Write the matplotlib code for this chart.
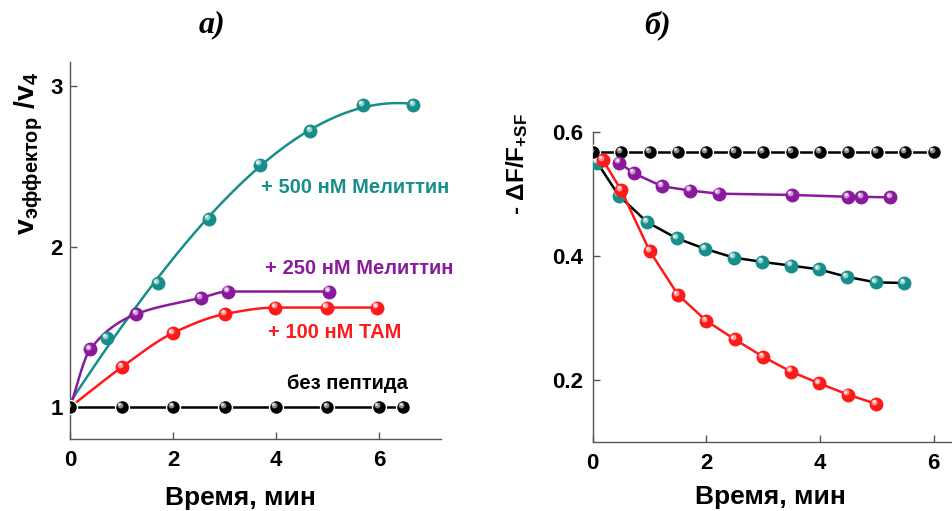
import matplotlib
matplotlib.use("Agg")
import matplotlib.pyplot as plt
import matplotlib.transforms as mtransforms
import numpy as np

plt.rcParams['font.family'] = ['Liberation Sans', 'DejaVu Sans']
plt.rcParams['font.weight'] = 'bold'
plt.rcParams['mathtext.fontset'] = 'custom'
plt.rcParams['mathtext.rm'] = 'Liberation Sans:bold'
plt.rcParams['mathtext.bf'] = 'Liberation Sans:bold'
plt.rcParams['mathtext.it'] = 'Liberation Sans:bold'

TEAL = '#168f8a'
PURPLE = '#8a1a9c'
RED = '#ff1a1a'
BLACK = '#000000'

# а) скорость эффектора, отнесённая к v4
t_mel500 = [0, 0.71, 1.70, 2.69, 3.68, 4.67, 5.68, 6.67]
v_mel500 = [1.0, 1.43, 1.77, 2.17, 2.51, 2.72, 2.88, 2.88]
t_mel250 = [0, 0.39, 1.29, 2.54, 3.07, 5.03]
v_mel250 = [1.0, 1.36, 1.58, 1.68, 1.72, 1.72]
t_tam100 = [0, 1.01, 1.99, 3.01, 3.99, 4.99, 5.97]
v_tam100 = [1.0, 1.25, 1.46, 1.58, 1.62, 1.62, 1.62]
t_ctrl = [0, 1, 2, 3, 4, 5, 6, 6.47]
v_ctrl = [1.0, 1.0, 1.0, 1.0, 1.0, 1.0, 1.0, 1.0]

# б) тушение флуоресценции
tb_ctrl = [0, 0.5, 1, 1.5, 2, 2.5, 3, 3.5, 4, 4.5, 5, 5.5, 6]
fb_ctrl = [0.567] * 13
tb_mel250 = [0.47, 0.72, 1.22, 1.72, 2.22, 3.50, 4.50, 4.73, 5.24]
fb_mel250 = [0.550, 0.533, 0.512, 0.505, 0.500, 0.498, 0.495, 0.495, 0.494]
tb_mel500 = [0.08, 0.46, 0.96, 1.48, 1.98, 2.48, 2.98, 3.49, 3.98, 4.47, 4.98, 5.48]
fb_mel500 = [0.550, 0.497, 0.454, 0.428, 0.411, 0.397, 0.390, 0.384, 0.378, 0.366, 0.357, 0.356]
tb_tam100 = [0.18, 0.50, 1.00, 1.50, 2.00, 2.50, 3.00, 3.49, 3.99, 4.49, 4.99]
fb_tam100 = [0.554, 0.506, 0.408, 0.337, 0.295, 0.265, 0.237, 0.213, 0.194, 0.176, 0.161]


def pchip(x, y, n=200):
    # монотонная кубическая кривая через точки (Fritsch-Carlson)
    x = np.asarray(x, float)
    y = np.asarray(y, float)
    h = np.diff(x)
    d = np.diff(y) / h
    m = np.zeros_like(y)
    m[0], m[-1] = d[0], d[-1]
    for i in range(1, len(x) - 1):
        if d[i - 1] * d[i] > 0:
            w1 = 2 * h[i] + h[i - 1]
            w2 = h[i] + 2 * h[i - 1]
            m[i] = (w1 + w2) / (w1 / d[i - 1] + w2 / d[i])
    xs = np.linspace(x[0], x[-1], n)
    k = np.clip(np.searchsorted(x, xs) - 1, 0, len(x) - 2)
    s = (xs - x[k]) / h[k]
    h00 = 2 * s**3 - 3 * s**2 + 1
    h10 = s**3 - 2 * s**2 + s
    h01 = -2 * s**3 + 3 * s**2
    h11 = s**3 - s**2
    ys = h00 * y[k] + h10 * h[k] * m[k] + h01 * y[k + 1] + h11 * h[k] * m[k + 1]
    return xs, ys


def polyline(x, y, deg=3, n=200):
    # сглаживающий полином по точкам
    p = np.polyfit(x, y, deg)
    xs = np.linspace(x[0], x[-1], n)
    return xs, np.polyval(p, xs)


def light(c, f=0.6):
    rgb = np.array(matplotlib.colors.to_rgb(c))
    return tuple(rgb + (1 - rgb) * f)


def balls(ax, x, y, color, size=10, edge='none', z=3):
    ax.plot(x, y, 'o', color=color, ms=size, mec=edge, mew=1.0, zorder=z)
    # блик на шарике
    off = mtransforms.ScaledTranslation(-1.4 / 72, 1.6 / 72, ax.figure.dpi_scale_trans)
    ax.plot(x, y, 'o', color=light(color, 0.55), ms=size * 0.42, mec='none',
            transform=ax.transData + off, zorder=z + 0.1)
    off2 = mtransforms.ScaledTranslation(-1.8 / 72, 2.0 / 72, ax.figure.dpi_scale_trans)
    ax.plot(x, y, 'o', color=light(color, 0.9), ms=size * 0.2, mec='none',
            transform=ax.transData + off2, zorder=z + 0.2)


def style(ax):
    for s in ['top', 'right']:
        ax.spines[s].set_visible(False)
    for s in ['left', 'bottom']:
        ax.spines[s].set_color('#555555')
        ax.spines[s].set_linewidth(1.0)
    ax.tick_params(direction='in', length=5, width=1, color='#555555',
                   labelsize=16)


fig = plt.figure(figsize=(9.53, 5.11), dpi=100)

# ---- а)
ax1 = fig.add_axes([0.0735, 0.1403, 0.389, 0.7388])
style(ax1)
ax1.tick_params(axis='x', pad=8)
ax1.tick_params(axis='y', pad=5)

for t, v, c, line in [(t_mel500, v_mel500, TEAL, polyline),
                      (t_mel250, v_mel250, PURPLE, pchip),
                      (t_tam100, v_tam100, RED, pchip)]:
    xs, ys = line(t, v)
    ax1.plot(xs, ys, color=c, lw=1.8, zorder=2)
    balls(ax1, t[1:], v[1:], c)
ax1.plot(t_ctrl, v_ctrl, color=BLACK, lw=1.8, zorder=4)
balls(ax1, t_ctrl, v_ctrl, BLACK, size=10, edge='white', z=5)

ax1.set_xlim(0, 7.2)
ax1.set_ylim(0.8, 3.15)
ax1.set_xticks([0, 2, 4, 6])
ax1.set_yticks([1, 2, 3])

ax1.text(3.71, 2.37, '+ 500 нМ Мелиттин', color=TEAL, fontsize=14.5,
         fontweight='bold', va='center')
ax1.text(3.79, 1.865, '+ 250 нМ Мелиттин', color=PURPLE, fontsize=14.5,
         fontweight='bold', va='center')
ax1.text(3.84, 1.466, '+ 100 нМ ТАМ', color=RED, fontsize=14.5,
         fontweight='bold', va='center')
ax1.text(4.21, 1.147, 'без пептида', color=BLACK, fontsize=14.5,
         fontweight='bold', va='center')

fig.text(0.030, 0.699, r'$\mathbf{v_{эффектор}\ /v_4}$', rotation=90,
         ha='center', va='center', fontsize=20.5)
fig.text(0.252, 0.025, 'Время, мин', ha='center', va='center',
         fontsize=19, fontweight='bold')
fig.text(0.2225, 0.951, 'а)', ha='center', va='center', fontsize=23,
         family='Liberation Serif', style='italic', fontweight='bold')

# ---- б)
ax2 = fig.add_axes([0.6219, 0.1356, 0.3781, 0.6067])
style(ax2)
ax2.tick_params(axis='x', pad=8)
ax2.tick_params(axis='y', pad=7)

ax2.plot(tb_mel500, fb_mel500, color=BLACK, lw=1.8, zorder=2)
balls(ax2, tb_mel500, fb_mel500, TEAL, z=3)
ax2.plot(tb_ctrl, fb_ctrl, color=BLACK, lw=1.8, zorder=4)
balls(ax2, tb_ctrl, fb_ctrl, BLACK, size=10, edge='white', z=5)
ax2.plot(tb_mel250, fb_mel250, color=PURPLE, lw=1.8, zorder=6)
balls(ax2, tb_mel250, fb_mel250, PURPLE, z=7)
ax2.plot(tb_tam100, fb_tam100, color=RED, lw=1.8, zorder=8)
balls(ax2, tb_tam100, fb_tam100, RED, z=9)

ax2.set_xlim(0, 6.34)
ax2.set_ylim(0.1, 0.6)
ax2.set_xticks([0, 2, 4, 6])
ax2.set_yticks([0.2, 0.4, 0.6])
ax2.set_yticklabels(['0.2', '0.4', '0.6'])

fig.text(0.5425, 0.678, r'- ΔF/F$_{+SF}$', rotation=90,
         ha='center', va='center', fontsize=17.5, fontweight='bold')
fig.text(0.8087, 0.028, 'Время, мин', ha='center', va='center',
         fontsize=19, fontweight='bold')
fig.text(0.690, 0.951, 'б)', ha='center', va='center', fontsize=23,
         family='Liberation Serif', style='italic', fontweight='bold')

fig.savefig('out.png', dpi=100)
